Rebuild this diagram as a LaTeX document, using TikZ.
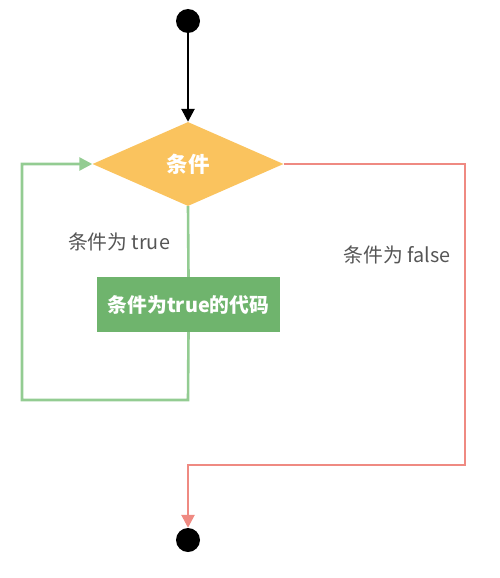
\documentclass[tikz,border=0pt]{standalone}
\usepackage{fontspec}
\newfontfamily\cjk{Noto Sans CJK SC}
\usetikzlibrary{arrows.meta,shapes.geometric}
\definecolor{diafill}{HTML}{FAC35E}
\definecolor{boxfill}{HTML}{6FB46D}
\definecolor{gline}{HTML}{93CC92}
\definecolor{rline}{HTML}{EF8A82}
\definecolor{lbl}{HTML}{555555}
\begin{document}
\begin{tikzpicture}[x=1pt,y=-1pt,
  dot/.style={circle,fill=black,minimum size=24pt,inner sep=0pt},
  cond/.style={diamond,fill=diafill,minimum width=191pt,minimum height=84pt,inner sep=0pt,aspect=2.27,font=\cjk\bfseries\fontsize{21.5}{23}\selectfont,text=white},
  codebox/.style={rectangle,fill=boxfill,minimum width=183pt,minimum height=55pt,inner sep=0pt,font=\cjk\bfseries\fontsize{19.8}{21}\selectfont,text=white},
  lab/.style={font=\cjk\fontsize{19.8}{21}\selectfont,text=lbl},
  gl/.style={draw=gline,line width=2.6pt},
  rl/.style={draw=rline,line width=2.6pt},
  tip/.style={-{Triangle[length=13pt,width=13pt]}}]
\useasboundingbox (0,0) rectangle (500,578);
\node[dot] (start) at (188,21) {};
\node[cond] (c) at (188,164) {条件};
\node[codebox] (code) at (188.5,304.5) {条件为true的代码};
\node[dot] (stop) at (188,540) {};
\coordinate (g1) at (188,400);
\coordinate (g2) at (22,400);
\coordinate (g3) at (22,164);
\coordinate (r1) at (465,164);
\coordinate (r2) at (465,465);
\coordinate (r3) at (188,465);
\draw[line width=2.6pt,tip] (start) -- (c.north);
\draw[gl] (c.south) -- (code.north);
\draw[gl,tip] (code.south) -- (g1) -- (g2) -- (g3) -- (c.west);
\draw[rl,tip] (c.east) -- (r1) -- (r2) -- (r3) -- (stop.north);
\node[lab] (lt) at (119,242) {条件为 true};
\node[lab] (lf) at (397,255) {条件为 false};
\end{tikzpicture}
\end{document}
